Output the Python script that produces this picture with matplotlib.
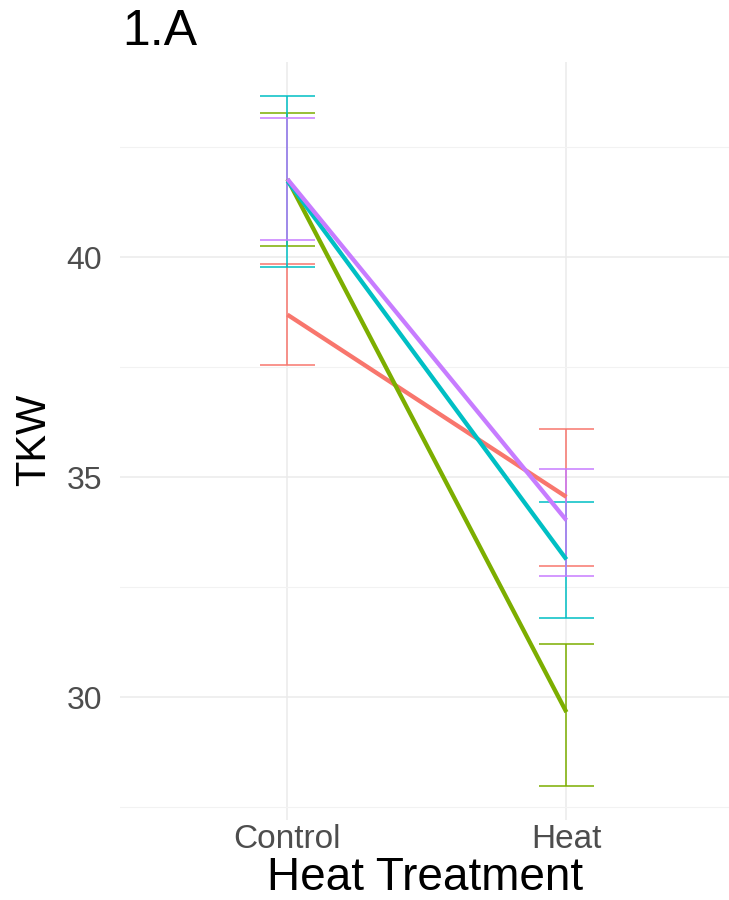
import numpy as np
from matplotlib import pyplot as plt

plt.rcParams["font.family"] = ["Liberation Sans", "DejaVu Sans"]

# Werte
treatments = ["Control", "Heat"]
groups = ["A", "B", "C", "D"]
colors = ["#F8766D", "#7CAE00", "#00BFC4", "#C77CFF"]

mean_control = [38.69, 41.77, 41.73, 41.77]
mean_heat = [34.55, 29.66, 33.13, 34.02]
lower_control = [37.55, 40.26, 39.78, 40.38]
upper_control = [39.83, 43.28, 43.65, 43.16]
lower_heat = [32.98, 27.99, 31.80, 32.75]
upper_heat = [36.10, 31.21, 34.43, 35.18]

fig = plt.figure(figsize=(7.29, 9), dpi=100)
ax = fig.add_axes([120 / 729, 80 / 900, 609 / 729, 758 / 900])

x = np.arange(1, len(treatments) + 1)
cap = 0.1

# Fehlerbalken
for i, g in enumerate(groups):
    lows = [lower_control[i], lower_heat[i]]
    highs = [upper_control[i], upper_heat[i]]
    ax.vlines(x, lows, highs, color=colors[i], lw=1.1, zorder=2)
    ax.hlines(lows, x - cap, x + cap, color=colors[i], lw=1.1, zorder=2)
    ax.hlines(highs, x - cap, x + cap, color=colors[i], lw=1.1, zorder=2)

# Mittelwertlinien
for i, g in enumerate(groups):
    ax.plot(x, [mean_control[i], mean_heat[i]], color=colors[i], lw=3.1,
            solid_capstyle="butt", zorder=3)

ax.set_xlim(0.4, 0.4 + 609 / 279)
ax.set_ylim(27.21, 44.43)
ax.set_xticks(x)
ax.set_xticklabels(treatments)
ax.set_yticks([30, 35, 40])
ax.set_yticks([27.5, 32.5, 37.5, 42.5], minor=True)

ax.grid(True, which="major", color="#EBEBEB", lw=1.1)
ax.grid(True, which="minor", axis="y", color="#F2F2F2", lw=0.8)
ax.set_axisbelow(True)
for s in ax.spines.values():
    s.set_visible(False)
ax.tick_params(which="both", length=0)
ax.tick_params(axis="x", labelsize=24, labelcolor="#4D4D4D", pad=3)
ax.tick_params(axis="y", labelsize=23, labelcolor="#4D4D4D", pad=13)

fig.text(122 / 729, 1 - 45 / 900, "1.A", fontsize=36, ha="left", va="baseline")
fig.text(425 / 729, 1 - 890 / 900, "Heat Treatment", fontsize=33, ha="center", va="baseline")
fig.text(34 / 729, 1 - 440 / 900, "TKW", fontsize=30, rotation=90, ha="center", va="center")

fig.savefig("out.png", dpi=100)
